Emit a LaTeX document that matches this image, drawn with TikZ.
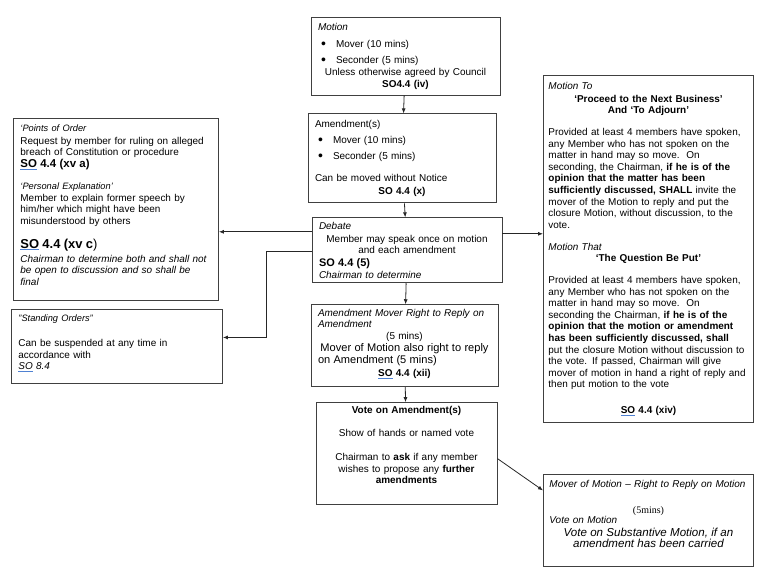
\documentclass[tikz,border=0pt]{standalone}
\usepackage{fontspec}
\setmainfont{Liberation Sans}
\newfontfamily\timesfont{Liberation Serif}
\usepackage{xcolor}
\usetikzlibrary{positioning,arrows.meta}
\definecolor{spell}{RGB}{79,129,210}
\newsavebox\sobox
\newcommand{\midline}[1]{\makebox[\linewidth]{#1}}
\newcommand{\bul}{\hspace*{3bp}\makebox[15bp][l]{\raisebox{-1bp}{\fontsize{14}{14}\selectfont\textbullet}}}
\newcommand{\hdr}[1]{{\fontsize{9.3}{11.6}\selectfont\itshape #1}}
\newcommand{\spellso}{\sbox\sobox{SO}\makebox[0pt][l]{\color{spell}\rule[-2.2bp]{\wd\sobox}{0.9bp}}SO}

\begin{document}
\begin{tikzpicture}[x=1bp,y=-1bp,
	box/.style={draw=black!75, line width=0.9bp, align=left, inner xsep=7bp, inner ysep=3bp, font=\fontsize{10}{11.6}\selectfont},
	arrow/.style={draw=black!85, line width=0.8bp, -{Latex[length=5bp,width=4bp]}}]
		\useasboundingbox (0,0) rectangle (765,576);
		
		\node[box, text width=175bp, minimum height=78bp] (motion) at (405.5,56) {\textit{Motion}\\[5.4bp]
			\bul Mover (10 mins)\\[5.4bp]
			\bul Seconder (5 mins)\\
			\midline{Unless otherwise agreed by Council}\\
			\midline{\textbf{SO4.4 (iv)}}};
		\node[box, text width=174bp, minimum height=89bp] (amend) [below=18bp of motion, xshift=-3.5bp] {Amendment(s)\\[4.4bp]
			\bul Mover (10 mins)\\[4.4bp]
			\bul Seconder (5 mins)\\[10.4bp]
			Can be moved without Notice\\[1bp]
			\midline{\textbf{SO 4.4 (x)}}};
		\node[box, text width=176bp, minimum height=65bp] (debate) [below=14bp of amend, xshift=5bp] {\textit{Debate}\\[1.4bp]
			\midline{Member may speak once on motion}\\
			\midline{and each amendment}\\[1.4bp]
			{\fontsize{11}{13}\selectfont\textbf{SO 4.4 (5)}}\\
			\textit{Chairman to determine}};
		\node[box, text width=173bp, minimum height=82bp] (reply) [below=21bp of debate, xshift=-2.5bp] {\textit{Amendment Mover Right to Reply on}\\
			\textit{Amendment}\\
			\midline{(5 mins)}\\[0.4bp]
			\midline{\fontsize{11.1}{13}\selectfont Mover of Motion also right to reply}\\[1bp]
			{\fontsize{11.1}{13}\selectfont on Amendment (5 mins)}\\[1bp]
			\midline{\textbf{\spellso\ 4.4 (xii)}}\\[-5.6bp]
			\mbox{}};
		\node[box, text width=167bp, minimum height=102bp] (vote) [below=15bp of reply, xshift=2bp] {\midline{\textbf{Vote on Amendment(s)}}\\[12bp]
			\midline{Show of hands or named vote}\\[12.4bp]
			\midline{Chairman to \textbf{ask} if any member}\\
			\midline{wishes to propose any \textbf{further}}\\
			\midline{\textbf{amendments}}\\[6bp]
			\mbox{}};
		
		\node[box, anchor=north west, text width=191bp, minimum height=182bp] (points) at (13,118) {\hdr{‘Points of Order}\\[1.4bp]
			Request by member for ruling on alleged\\
			breach of Constitution or procedure\\
			{\fontsize{11.5}{13}\selectfont\textbf{\spellso\ 4.4 (xv a)}}\\[10.4bp]
			\hdr{‘Personal Explanation’}\\
			Member to explain former speech by\\
			him/her which might have been\\
			misunderstood by others\\[12.4bp]
			{\fontsize{13}{15}\selectfont\textbf{\spellso\ 4.4 (xv c})}\\[2.4bp]
			\mbox{\textit{Chairman to determine both and shall not}}\\
			\textit{be open to discussion and so shall be}\\
			\textit{final}\\[-2.6bp]
			\mbox{}};
		\node[box, anchor=north west, text width=197bp, minimum height=74bp] (standing) at (11,309) {\hdr{"Standing Orders"}\\[13.4bp]
			Can be suspended at any time in\\
			accordance with\\
			\textit{\spellso\ 8.4}\\[-3.6bp]
			\mbox{}};
		
		\node[box, anchor=north west, inner xsep=5bp, text width=200bp, minimum height=347bp] (closure) at (543,75) {\textit{Motion To}\\[1.4bp]
			\midline{\textbf{‘Proceed to the Next Business’}}\\
			\midline{\textbf{And ‘To Adjourn’}}\\[10.4bp]
			Provided at least 4 members have spoken,\\
			any Member who has not spoken on the\\
			matter in hand may so move.\ \ On\\
			seconding, the Chairman, \textbf{if he is of the}\\
			\textbf{opinion that the matter has been}\\
			\mbox{\textbf{sufficiently discussed, SHALL} invite the}\\
			mover of the Motion to reply and put the\\
			\mbox{closure Motion, without discussion, to the}\\
			vote.\\[10.4bp]
			\textit{Motion That}\\
			\midline{\textbf{‘The Question Be Put’}}\\[10.4bp]
			Provided at least 4 members have spoken,\\
			any Member who has not spoken on the\\
			matter in hand may so move.\ \ On\\
			seconding the Chairman, \textbf{if he is of the}\\
			\mbox{\textbf{opinion that the motion or amendment}}\\
			\mbox{\textbf{has been sufficiently discussed, shall}}\\
			\mbox{put the closure Motion without discussion to}\\
			the vote. If passed, Chairman will give\\
			\mbox{mover of motion in hand a right of reply and}\\
			then put motion to the vote\\[14.4bp]
			\midline{\textbf{\spellso\ 4.4 (xiv)}}};
		\node[box, anchor=north west, inner xsep=6bp, text width=198bp, minimum height=92bp] (final) at (543,474) {\mbox{\textit{Mover of Motion – Right to Reply on Motion}}\\[14.4bp]
			\midline{\timesfont (5mins)}\\[-1.6bp]
			\textit{Vote on Motion}\\[1bp]
			\midline{\fontsize{11.6}{13}\selectfont\itshape Vote on Substantive Motion, if an}\\
			\midline{\fontsize{11.6}{13}\selectfont\itshape amendment has been carried}\\[1.4bp]
			\mbox{}};
		
		\coordinate (dl) at ([yshift=18.5bp]debate.west);
		\coordinate (dr) at ([yshift=16.5bp]debate.east);
		\coordinate (sl) at ([yshift=9bp]standing.east);
		
		\path[arrow] (motion) -- (amend);
		\path[arrow] (amend) -- (debate);
		\path[arrow] (debate) -- (reply);
		\path[arrow] (reply) -- (vote);
		\path[arrow] (dl) -- (dl -| points.east);
		\path[arrow] (dr) -- (dr -| closure.west);
		\path[arrow] ([yshift=-1.5bp]debate.west) -- ++(-45,0) |- (sl);
		\path[arrow] ([yshift=-5bp]vote.east) -- ([yshift=30bp]final.west);
	\end{tikzpicture}
\end{document}
